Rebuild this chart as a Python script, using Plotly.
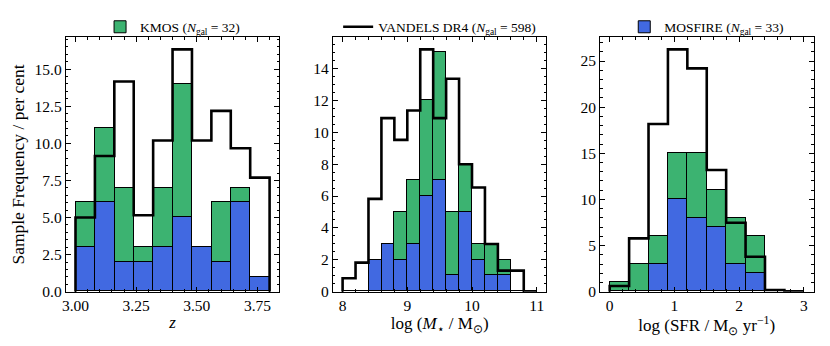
import numpy as np
import plotly.graph_objects as go
from plotly.subplots import make_subplots

# bin edges for the three panels
z_edges = [3.00, 3.08, 3.16, 3.24, 3.32, 3.40, 3.48, 3.56, 3.64, 3.72, 3.80]
mass_edges = [8.0, 8.2, 8.4, 8.6, 8.8, 9.0, 9.2, 9.4, 9.6, 9.8, 10.0, 10.2, 10.4, 10.6, 10.8, 11.0]
sfr_edges = [0.0, 0.3, 0.6, 0.9, 1.2, 1.5, 1.8, 2.1, 2.4, 2.7, 3.0]

# MOSFIRE (bottom of stack)
z_mosfire = [3, 6, 2, 2, 3, 5, 3, 2, 6, 1]
mass_mosfire = [0, 0, 2, 3, 2, 3, 6, 7, 1, 5, 2, 1, 1, 0, 0]
sfr_mosfire = [0, 0, 3, 10, 8, 7, 3, 2, 0, 0]

# KMOS (stacked on top)
z_kmos = [3, 5, 5, 1, 4, 9, 0, 4, 1, 0]
mass_kmos = [0, 0, 0, 0, 3, 4, 6, 8, 4, 3, 1, 2, 1, 0, 0]
sfr_kmos = [1, 3, 3, 5, 7, 4, 5, 4, 0, 0]

# VANDELS DR4 step histogram (per cent)
z_vandels = [5.0, 9.15, 14.17, 5.15, 10.19, 16.33, 10.19, 12.19, 9.67, 7.69]
mass_vandels = [0.84, 1.82, 5.82, 10.88, 9.52, 11.36, 15.19, 10.88, 13.35, 7.99, 6.53, 2.99, 1.32, 1.32, 0.0]
sfr_vandels = [0.61, 5.78, 18.17, 26.26, 24.2, 13.19, 7.48, 3.79, 0.18, 0.0]

n_kmos, n_vandels, n_mosfire = 32, 598, 33

BLUE = "#4169E1"
GREEN = "#3CB371"
FONT = "Liberation Serif"

fig = make_subplots(rows=1, cols=3)

panels = [
    (z_edges, z_mosfire, z_kmos, z_vandels),
    (mass_edges, mass_mosfire, mass_kmos, mass_vandels),
    (sfr_edges, sfr_mosfire, sfr_kmos, sfr_vandels),
]

for i, (edges, mos, kmos, van) in enumerate(panels):
    col = i + 1
    e = np.array(edges)
    centres = (e[:-1] + e[1:]) / 2
    widths = np.diff(e)
    fig.add_trace(go.Bar(x=centres, y=mos, width=widths, marker_color=BLUE,
                         marker_line=dict(color="black", width=1),
                         name=f"MOSFIRE (<i>N</i><sub>gal</sub> = {n_mosfire})",
                         legend="legend3", showlegend=(i == 2)), row=1, col=col)
    fig.add_trace(go.Bar(x=centres, y=kmos, width=widths, marker_color=GREEN,
                         marker_line=dict(color="black", width=1),
                         name=f"KMOS (<i>N</i><sub>gal</sub> = {n_kmos})",
                         legend="legend", showlegend=(i == 0)), row=1, col=col)
    # outline like a matplotlib step histogram
    sx = np.repeat(e, 2)
    sy = np.concatenate([[0], np.repeat(van, 2), [0]])
    fig.add_trace(go.Scatter(x=sx, y=sy, mode="lines", line=dict(color="black", width=2.6),
                             name=f"VANDELS DR4 (<i>N</i><sub>gal</sub> = {n_vandels})",
                             legend="legend2", showlegend=(i == 1)), row=1, col=col)
    # empty trace so the top/right tick axes get drawn
    fig.add_trace(go.Scatter(x=[None], y=[None], xaxis=f"x{4 + i}", yaxis=f"y{4 + i}",
                             showlegend=False, hoverinfo="skip"))

# the page body has an 8px margin, so the figure sits at (8, 8) in the window
OFF = 8
W, H = 830 - 2 * OFF, 346 - 2 * OFF
lefts = [65.8 - OFF, 332.9 - OFF, 600.0 - OFF]
pw = 213.5
ydom = [1 - (291.7 - OFF) / H, 1 - (37.3 - OFF) / H]

tick_common = dict(ticks="inside", ticklen=5, tickwidth=1, tickcolor="black",
                   showgrid=False, zeroline=False, automargin=False)
axis_common = dict(showline=True, linecolor="black", linewidth=1, mirror=True,
                   tickfont=dict(family=FONT, size=15.5, color="black"), **tick_common)
minor_common = dict(ticks="inside", ticklen=2.5, tickwidth=0.8, tickcolor="black", showgrid=False)

xcfg = [
    dict(range=[2.96, 3.84], tickvals=[3.0, 3.25, 3.5, 3.75], tickformat=".2f",
         minor=dict(dtick=0.05, **minor_common)),
    dict(range=[7.85, 11.15], tickvals=[8, 9, 10, 11],
         minor=dict(dtick=0.2, **minor_common)),
    dict(range=[-0.15, 3.15], tickvals=[0, 1, 2, 3],
         minor=dict(dtick=0.2, **minor_common)),
]
ycfg = [
    dict(range=[0, 16.33 * 1.05], tickvals=[0, 2.5, 5, 7.5, 10, 12.5, 15], tickformat=".1f",
         minor=dict(dtick=0.5, **minor_common)),
    dict(range=[0, 15.19 * 1.05], tickvals=[0, 2, 4, 6, 8, 10, 12, 14],
         minor=dict(dtick=0.5, **minor_common)),
    dict(range=[0, 26.26 * 1.05], tickvals=[0, 5, 10, 15, 20, 25],
         minor=dict(dtick=1, **minor_common)),
]
xtitles = ["<i>z</i>",
           "log (<i>M</i><sub>⋆</sub> / M<sub>⊙</sub>)",
           "log (SFR / M<sub>⊙</sub> yr<sup>−1</sup>)"]

for i in range(3):
    suffix = "" if i == 0 else str(i + 1)
    dom = [lefts[i] / W, (lefts[i] + pw) / W]
    fig.layout["xaxis" + suffix].update(domain=dom, **axis_common, **xcfg[i])
    fig.layout["xaxis" + suffix].title = dict(text=xtitles[i], standoff=2,
                                              font=dict(family=FONT, size=17, color="black"))
    fig.layout["yaxis" + suffix].update(domain=ydom, **axis_common, **ycfg[i])
    # top and right tick marks, like matplotlib's direction="in" on all sides
    fig.layout[f"xaxis{4 + i}"] = dict(overlaying="x" + suffix, side="top", anchor=f"y{4 + i}",
                                       showticklabels=False, showline=False,
                                       **tick_common, **xcfg[i])
    fig.layout[f"yaxis{4 + i}"] = dict(overlaying="y" + suffix, side="right", anchor=f"x{4 + i}",
                                       showticklabels=False, showline=False,
                                       **tick_common, **ycfg[i])

fig.layout.yaxis.title = dict(text="Sample Frequency / per cent", standoff=6,
                              font=dict(family=FONT, size=17.5, color="black"))

leg_common = dict(orientation="h", yanchor="middle", y=1 - (27 - OFF) / H, xanchor="center",
                  bgcolor="rgba(0,0,0,0)", font=dict(family=FONT, size=13.5, color="black"))
fig.update_layout(
    width=W, height=H,
    margin=dict(l=0, r=0, t=0, b=0),
    barmode="stack", bargap=0,
    plot_bgcolor="white", paper_bgcolor="white",
    font=dict(family=FONT, size=15, color="black"),
    legend=dict(x=(lefts[0] + pw / 2) / W, **leg_common),
    legend2=dict(x=(lefts[1] + pw / 2) / W, **leg_common),
    legend3=dict(x=(lefts[2] + pw / 2) / W, **leg_common),
)

fig.write_html("out.html")
